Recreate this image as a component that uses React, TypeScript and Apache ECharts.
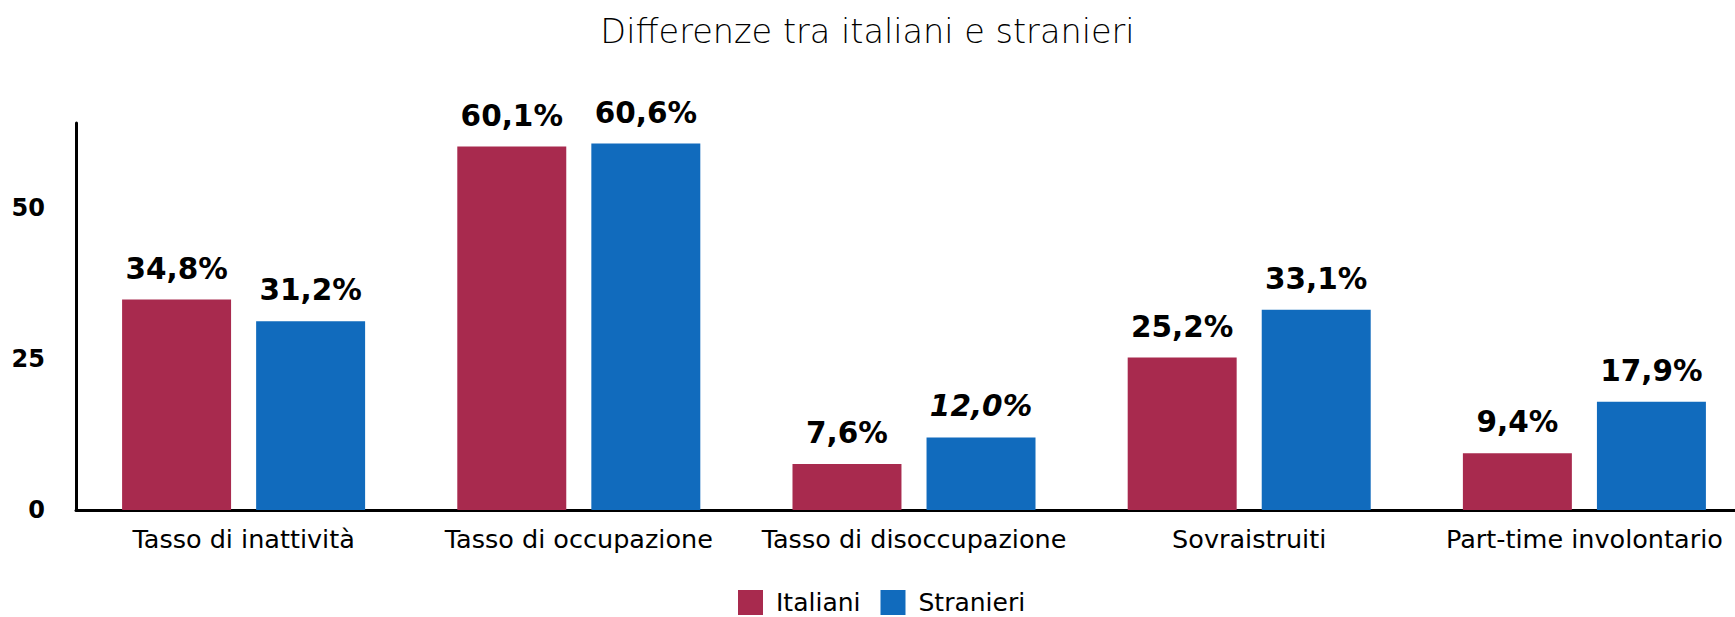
import React, { useEffect, useRef } from "react";
import * as echarts from "echarts";

const categories = [
  "Tasso di inattività",
  "Tasso di occupazione",
  "Tasso di disoccupazione",
  "Sovraistruiti",
  "Part-time involontario",
];
const italiani = [34.8, 60.1, 7.6, 25.2, 9.4];
const stranieri = [31.2, 60.6, 12.0, 33.1, 17.9];
const seriesNames = ["Italiani", "Stranieri"];
const titleText = "Differenze tra italiani e stranieri";

const RED = "#A82A4E";
const BLUE = "#116BBD";

const fmt = (v: number) => v.toFixed(1).replace(".", ",") + "%";

export default function App() {
  const ref = useRef<HTMLDivElement>(null);
  useEffect(() => {
    if (!ref.current) return;
    const chart = echarts.init(ref.current, null, { renderer: "svg" });
    const labelStyle = {
      show: true,
      position: "top",
      distance: 16,
      fontFamily: "DejaVu Sans",
      fontWeight: "bold",
      fontSize: 29.5,
      color: "#000",
      formatter: (p: any) => fmt(p.value),
    };
    chart.setOption({
      animation: false,
      backgroundColor: "#fff",
      title: {
        text: titleText,
        left: "center",
        top: 9,
        textStyle: {
          fontFamily: "DejaVu Sans",
          fontWeight: 200,
          fontSize: 33.5,
          color: "#000",
        },
      },
      legend: {
        left: 738,
        top: 590,
        padding: 0,
        itemWidth: 25,
        itemHeight: 25,
        itemGap: 20,
        icon: "rect",
        data: seriesNames,
        textStyle: {
          fontFamily: "DejaVu Sans",
          fontSize: 25,
          color: "#000",
          padding: [0, 0, 0, 8],
        },
      },
      grid: {
        left: 76,
        right: -17,
        top: 123,
        bottom: 107,
        containLabel: false,
        outerBoundsMode: "none",
      },
      xAxis: {
        type: "category",
        data: categories,
        axisLine: { show: true, lineStyle: { color: "#000", width: 3 } },
        axisTick: { show: false },
        axisLabel: {
          margin: 16,
          fontFamily: "DejaVu Sans",
          fontSize: 25.5,
          color: "#000",
          interval: 0,
        },
      },
      yAxis: {
        type: "value",
        min: 0,
        max: 64,
        interval: 25,
        splitLine: { show: false },
        axisTick: { show: false },
        axisLine: { show: true, lineStyle: { color: "#000", width: 3 } },
        axisLabel: {
          margin: 31,
          showMaxLabel: false,
          fontFamily: "DejaVu Sans",
          fontWeight: "bold",
          fontSize: 24,
          color: "#000",
          formatter: (v: number) => (v % 25 === 0 ? String(v) : ""),
        },
      },
      series: [
        {
          name: seriesNames[0],
          type: "bar",
          data: italiani,
          itemStyle: { color: RED },
          barGap: "23%",
          barCategoryGap: "27.5%",
          label: labelStyle,
        },
        {
          name: seriesNames[1],
          type: "bar",
          data: stranieri.map((v, i) =>
            i === 2 ? { value: v, label: { fontStyle: "italic" } } : v
          ),
          itemStyle: { color: BLUE },
          barGap: "23%",
          barCategoryGap: "27.5%",
          label: labelStyle,
        },
      ],
    });
    return () => chart.dispose();
  }, []);
  return (
    <div
      ref={ref}
      style={{ position: "absolute", left: 0, top: 0, width: 1735, height: 617 }}
    />
  );
}
